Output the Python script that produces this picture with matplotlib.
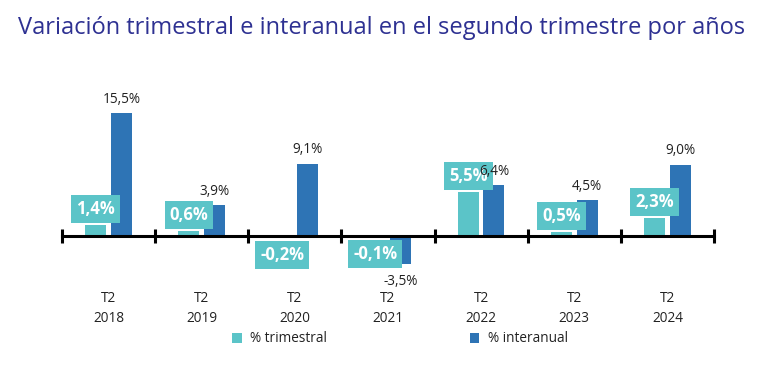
import numpy as np
import matplotlib
matplotlib.use("Agg")
from matplotlib import pyplot as plt
import matplotlib.transforms as mtrans

plt.rcParams['font.family'] = ['Open Sans', 'DejaVu Sans']

years = ["2018", "2019", "2020", "2021", "2022", "2023", "2024"]
trimestral = [1.4, 0.6, -0.2, -0.1, 5.5, 0.5, 2.3]
interanual = [15.5, 3.9, 9.1, -3.5, 6.4, 4.5, 9.0]

teal = "#5BC4C8"
blue = "#2E74B5"
title_color = "#2E3192"

W, H = 768, 374
fig = plt.figure(figsize=(W / 100, H / 100), dpi=100)
# axes placed in pixel terms: x 62..714, y 80..290 (from top)
ax = fig.add_axes([62 / W, 1 - 290 / H, (714 - 62) / W, (290 - 80) / H])

x = np.arange(len(years))
w = 0.226
off = 0.137
ax.bar(x - off, trimestral, w, color=teal, label="% trimestral")
ax.bar(x + off, interanual, w, color=blue, label="% interanual")

ax.set_xlim(-0.5, len(years) - 0.5)
ax.set_ylim(-6.8, 19.65)

for s in ["top", "right", "left"]:
    ax.spines[s].set_visible(False)
ax.spines["bottom"].set_position(("data", 0))
ax.spines["bottom"].set_linewidth(2.2)
ax.set_yticks([])
ax.set_xticks(np.arange(-0.5, len(years), 1.0))
ax.set_xticklabels([])
ax.tick_params(axis="x", direction="inout", length=10, width=2.2)

fmt = lambda v: f"{v:.1f}%".replace(".", ",")

box = dict(boxstyle="square,pad=0.3", fc=teal, ec="none")
for xi, v in zip(x, trimestral):
    dy = 11.5 if v >= 0 else -12.5
    ax.annotate(fmt(v), (xi - off, v), xytext=(0, dy), textcoords="offset points",
                ha="center", va="center", color="white", fontsize=12, fontweight="bold",
                bbox=box)

for xi, v in zip(x, interanual):
    dy = 10 if v >= 0 else -13
    ax.annotate(fmt(v), (xi + off, v), xytext=(0, dy), textcoords="offset points",
                ha="center", va="center", color="#222222", fontsize=9.8)

tr = mtrans.blended_transform_factory(ax.transData, fig.transFigure)
for xi, yr in zip(x, years):
    ax.text(xi, 1 - 299 / H, "T2", transform=tr,
            ha="center", va="center", fontsize=9.8, color="#222222")
    ax.text(xi, 1 - 319 / H, yr, transform=tr,
            ha="center", va="center", fontsize=9.8, color="#222222")

fig.legend(loc="center", bbox_to_anchor=(400 / W, 1 - 339 / H), ncol=2, frameon=False,
           fontsize=9.8, handlelength=0.7, handleheight=0.7, columnspacing=10.5,
           handletextpad=0.6, labelcolor="#222222")

fig.text(18 / W, 1 - 28 / H, "Variación trimestral e interanual en el segundo trimestre por años",
         ha="left", va="center", fontsize=17.0, color=title_color)

fig.savefig("out.png", dpi=100)
